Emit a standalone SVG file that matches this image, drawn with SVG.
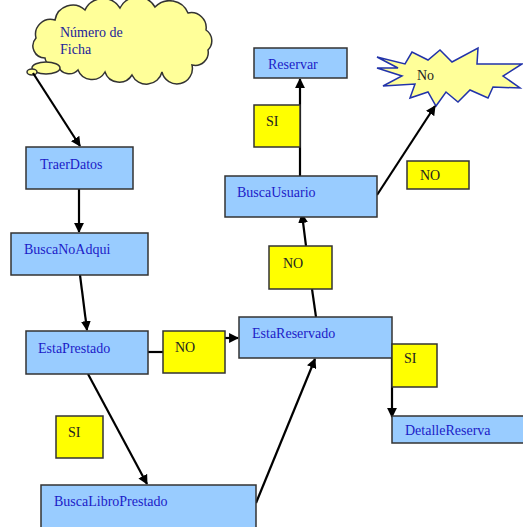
<svg xmlns="http://www.w3.org/2000/svg" width="523" height="527" viewBox="0 0 523 527">
<style>
.node{fill:#99ccff;stroke:#333;stroke-width:1.5}
.lbl{fill:#ffff00;stroke:#333;stroke-width:1.5}
.nt{font-family:"Liberation Serif",serif;font-size:14px;fill:#1c1cc8}
.lt{font-family:"Liberation Serif",serif;font-size:14px;fill:#222}
.c{stroke:#000;stroke-width:2.2;fill:none}
</style>
<defs>
<marker id="ah" viewBox="0 0 10 10" refX="9" refY="5" markerWidth="4.5" markerHeight="4.5" orient="auto" markerUnits="strokeWidth">
<path d="M0,0 L10,5 L0,10 z" fill="#000"/>
</marker>
</defs>
<rect width="523" height="527" fill="#fff"/>
<g id="cloud">
<path d="M45,58 A12,12 0 0 1 36,38 A15,15 0 0 1 55,20 A18,18 0 0 1 85,10 A20,20 0 0 1 120,8 A20,20 0 0 1 155,7 A20,20 0 0 1 188,13 A15,15 0 0 1 206,30 A13,13 0 0 1 208,50 A13,13 0 0 1 192,65 A15,15 0 0 1 162,72 A16,16 0 0 1 132,75 A15,15 0 0 1 105,72 A15,15 0 0 1 78,70 A12,12 0 0 1 58,66 A10,10 0 0 1 45,58 Z" fill="#ffff99" stroke="#333" stroke-width="1.5"/>
<ellipse cx="46" cy="68" rx="14" ry="6" fill="#ffff99" stroke="#333" stroke-width="1.5"/>
<ellipse cx="32" cy="72" rx="5" ry="3" fill="#ffff99" stroke="#333" stroke-width="1.5"/>
<text class="nt" x="60" y="37" style="fill:#22229a">Número de</text>
<text class="nt" x="60" y="54" style="fill:#22229a">Ficha</text>
</g>
<g id="star">
<polygon points="377,57 405,64 412,52 428,60 440,50 452,62 478,48 477,64 522,64 503,76 520,88 493,87 488,98 470,90 458,102 446,92 436,106 428,92 410,98 415,84 383,86 402,76 377,68 398,68" fill="#ffff99" stroke="#2233aa" stroke-width="1.5"/>
<text class="lt" x="417" y="80">No</text>
</g>
<g id="connectors">
<line class="c" x1="33" y1="73" x2="80" y2="146" marker-end="url(#ah)"/>
<line class="c" x1="79" y1="189" x2="79" y2="232" marker-end="url(#ah)"/>
<line class="c" x1="80" y1="275" x2="87" y2="330" marker-end="url(#ah)"/>
<line class="c" x1="148" y1="352" x2="163" y2="352"/>
<line class="c" x1="225" y1="338" x2="238" y2="338" marker-end="url(#ah)"/>
<line class="c" x1="88" y1="374" x2="147" y2="484" marker-end="url(#ah)"/>
<line class="c" x1="256" y1="503" x2="315" y2="359" stroke-width="1.6" marker-end="url(#ah)"/>
<line class="c" x1="316" y1="317" x2="312" y2="289"/>
<line class="c" x1="306" y1="246" x2="302" y2="214" marker-end="url(#ah)"/>
<line class="c" x1="300" y1="176" x2="300" y2="79" marker-end="url(#ah)"/>
<line class="c" x1="377" y1="195" x2="435" y2="106" marker-end="url(#ah)"/>
<line class="c" x1="392" y1="358" x2="392" y2="417" stroke-width="1.5" marker-end="url(#ah)"/>
</g>
<g id="TraerDatos"><rect class="node" x="26" y="147" width="107" height="42"/><text class="nt" x="40" y="169">TraerDatos</text></g>
<g id="BuscaNoAdqui"><rect class="node" x="11" y="233" width="137" height="42"/><text class="nt" x="24" y="254">BuscaNoAdqui</text></g>
<g id="EstaPrestado"><rect class="node" x="26" y="331" width="122" height="43"/><text class="nt" x="38" y="353">EstaPrestado</text></g>
<g id="lblNO1"><rect class="lbl" x="163" y="331" width="62" height="42"/><text class="lt" x="175" y="352">NO</text></g>
<g id="EstaReservado"><rect class="node" x="239" y="317" width="153" height="41"/><text class="nt" x="252" y="338">EstaReservado</text></g>
<g id="lblNO2"><rect class="lbl" x="269" y="246" width="63" height="43"/><text class="lt" x="283" y="268">NO</text></g>
<g id="lblSI3"><rect class="lbl" x="392" y="344" width="45" height="43"/><text class="lt" x="404" y="363">SI</text></g>
<g id="DetalleReserva"><rect class="node" x="392" y="416" width="135" height="27"/><text class="nt" x="405" y="435">DetalleReserva</text></g>
<g id="BuscaLibroPrestado"><rect class="node" x="41" y="485" width="215" height="45"/><text class="nt" x="54" y="506">BuscaLibroPrestado</text></g>
<g id="lblSI1"><rect class="lbl" x="56" y="416" width="47" height="42"/><text class="lt" x="68" y="437">SI</text></g>
<g id="Reservar"><rect class="node" x="254" y="48" width="93" height="30"/><text class="nt" x="268" y="69">Reservar</text></g>
<g id="lblSI2"><rect class="lbl" x="254" y="105" width="46" height="42"/><text class="lt" x="266" y="126">SI</text></g>
<g id="BuscaUsuario"><rect class="node" x="225" y="176" width="152" height="41"/><text class="nt" x="237" y="197">BuscaUsuario</text></g>
<g id="lblNO3"><rect class="lbl" x="407" y="161" width="62" height="28"/><text class="lt" x="420" y="180">NO</text></g>
</svg>
